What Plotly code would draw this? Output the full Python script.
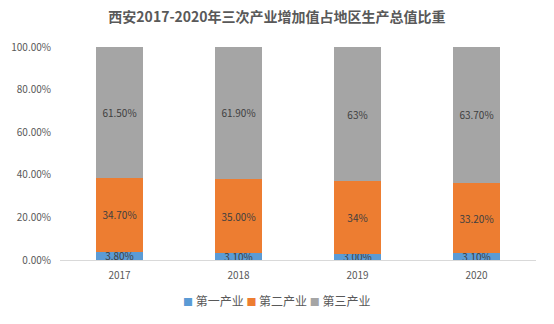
import plotly.graph_objects as go

years = ["2017", "2018", "2019", "2020"]
primary = [3.8, 3.1, 3.0, 3.1]
secondary = [34.7, 35.0, 34.0, 33.2]
tertiary = [61.5, 61.9, 63.0, 63.7]
primary_labels = ["3.80%", "3.10%", "3.00%", "3.10%"]
secondary_labels = ["34.70%", "35.00%", "34%", "33.20%"]
tertiary_labels = ["61.50%", "61.90%", "63%", "63.70%"]
names = ["第一产业", "第二产业", "第三产业"]
colors = ["#5B9BD5", "#ED7D31", "#A5A5A5"]

FONT = "Noto Sans CJK SC, Microsoft YaHei, sans-serif"

fig = go.Figure()
for vals, labels, name, color in zip(
    [primary, secondary, tertiary],
    [primary_labels, secondary_labels, tertiary_labels],
    names, colors):
    fig.add_trace(go.Bar(
        x=years, y=[v / 100 for v in vals], name=name, showlegend=False,
        marker=dict(color=color, line=dict(width=0)),
        text=labels, textposition="inside", insidetextanchor="middle",
        textfont=dict(color="#404040", size=10, family=FONT),
        cliponaxis=False,
    ))

# compact legend (Excel style): coloured square + series name
legend_text = " ".join(
    f"<span style='color:{c};font-size:10px'>■</span> {n}" for n, c in zip(names, colors)
)
fig.add_annotation(
    text=legend_text, xref="paper", yref="paper", x=0.454, y=-0.188,
    xanchor="center", yanchor="middle", showarrow=False,
    font=dict(size=12, color="#595959", family=FONT),
)

fig.update_layout(
    barmode="stack", bargap=0.6,
    width=554, height=324,
    margin=dict(l=60, r=18, t=47, b=64, autoexpand=False),
    paper_bgcolor="white", plot_bgcolor="white",
    font=dict(family=FONT, color="#595959", size=10),
    title=dict(text="<b>西安2017-2020年三次产业增加值占地区生产总值比重</b>",
               x=0.5, xanchor="center", y=0.947, yanchor="middle",
               font=dict(size=14, color="#595959", family=FONT)),
    uniformtext=dict(mode="show", minsize=10),
    showlegend=False,
)
fig.update_xaxes(showline=True, linecolor="#D9D9D9", linewidth=1,
                 ticks="outside", ticklen=6, tickcolor="rgba(0,0,0,0)",
                 tickfont=dict(size=10, color="#595959"))
fig.update_yaxes(range=[0, 1], dtick=0.2, tickformat=".2%", showgrid=False,
                 zeroline=False, showline=False,
                 ticks="outside", ticklen=6, tickcolor="rgba(0,0,0,0)",
                 tickfont=dict(size=10, color="#595959"))

fig.write_html("out.html")
